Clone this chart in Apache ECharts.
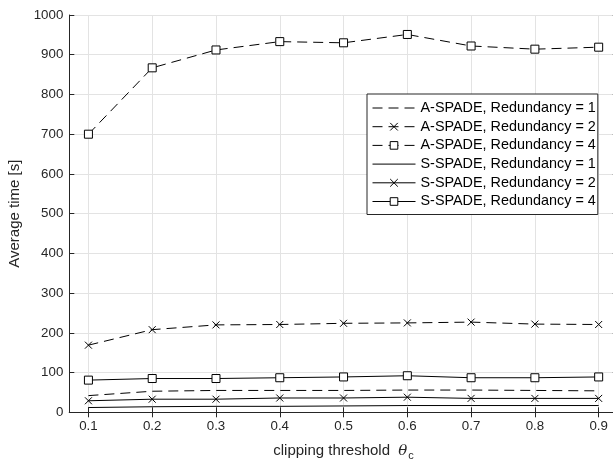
<!DOCTYPE html>
<html><head><meta charset="utf-8">
<script src="https://cdn.jsdelivr.net/npm/echarts@6/dist/echarts.min.js"></script>
<style>html,body{margin:0;padding:0;background:#fff}#c{width:613px;height:463px}</style>
</head><body><div id="c"></div>
<script>
const thresholds = [0.1, 0.2, 0.3, 0.4, 0.5, 0.6, 0.7, 0.8, 0.9];
const xTickLabels = ['0.1', '0.2', '0.3', '0.4', '0.5', '0.6', '0.7', '0.8', '0.9'];
const seriesNames = [
  'A-SPADE, Redundancy = 1', 'A-SPADE, Redundancy = 2', 'A-SPADE, Redundancy = 4',
  'S-SPADE, Redundancy = 1', 'S-SPADE, Redundancy = 2', 'S-SPADE, Redundancy = 4'
];
const aSpadeR1 = [42, 53, 55, 55, 55, 56, 56, 55, 54];
const aSpadeR2 = [169, 208, 220, 221, 224, 225, 227, 222, 221];
const aSpadeR4 = [700, 867, 912, 933, 930, 951, 922, 914, 919];
const sSpadeR1 = [12, 14, 15, 15, 16, 17, 17, 17, 17];
const sSpadeR2 = [29, 33, 33, 36, 36, 38, 35, 35, 35];
const sSpadeR4 = [81, 85, 85, 87, 89, 92, 87, 87, 89];

const FONT = 'Liberation Sans, Arial, Helvetica, sans-serif';
const AXIS = '#262626';
const GRID = '#e3e3e3';
const DASH = [10, 6];
const X_PATH = 'path://M0,0L10,10M10,0L0,10';
const SQ_PATH = 'path://M0,0H10V10H0Z';
const markers = ['none', 'x', 'sq', 'none', 'x', 'sq'];

function pairs(vals) { return thresholds.map((t, i) => [t, vals[i]]); }
function mk(name, vals, dashed, marker) {
  return {
    name: name, type: 'line', data: pairs(vals),
    lineStyle: { color: '#000', width: 1, type: dashed ? DASH : 'solid' },
    emphasis: { disabled: true },
    animation: false,
    showSymbol: marker !== 'none',
    symbol: marker === 'x' ? X_PATH : (marker === 'sq' ? SQ_PATH : 'none'),
    symbolSize: marker === 'x' ? 7 : 8,
    itemStyle: marker === 'sq'
      ? { color: '#fff', borderColor: '#000', borderWidth: 1 }
      : { color: '#000', borderColor: '#000', borderWidth: 1 }
  };
}

const chart = echarts.init(document.getElementById('c'), null, { renderer: 'canvas' });
const xBase = {
  type: 'value', min: 0.07, max: 0.93,
  axisLine: { show: true, lineStyle: { color: AXIS, width: 1 } },
  axisTick: { show: true, inside: true, length: 5, lineStyle: { color: AXIS }, customValues: thresholds },
};
const yBase = {
  type: 'value', min: 0, max: 1000, interval: 100,
  axisLine: { show: true, lineStyle: { color: AXIS, width: 1 } },
  axisTick: { show: true, inside: true, length: 5, lineStyle: { color: AXIS } },
};
chart.setOption({
  backgroundColor: '#fff',
  animation: false,
  grid: { left: 69.3, right: -4.8, top: 15, bottom: 50.7, containLabel: false, outerBoundsMode: 'none' },
  xAxis: [
    Object.assign({}, xBase, {
      position: 'bottom',
      axisLabel: {
        customValues: thresholds, margin: 8, color: AXIS, fontSize: 13.3, fontFamily: FONT,
        formatter: v => xTickLabels[thresholds.findIndex(t => Math.abs(t - v) < 1e-6)] || ''
      },
      splitLine: { show: true, lineStyle: { color: GRID, width: 1 } },
      name: '{a|clipping threshold  }{b|θ}{c|c}',
      nameLocation: 'middle', nameGap: 24,
      nameTextStyle: {
        color: AXIS, fontFamily: FONT,
        rich: {
          a: { fontSize: 15, fontFamily: FONT, color: AXIS, lineHeight: 18, verticalAlign: 'top' },
          b: { fontSize: 15, fontFamily: 'DejaVu Serif, serif', fontStyle: 'italic', color: AXIS, lineHeight: 18, verticalAlign: 'top' },
          c: { fontSize: 11, fontFamily: FONT, color: AXIS, lineHeight: 11, padding: [12, 0, 0, 1], verticalAlign: 'bottom' }
        }
      }
    }),
    Object.assign({}, xBase, {
      position: 'top', axisLabel: { show: false }, splitLine: { show: false }
    })
  ],
  yAxis: [
    Object.assign({}, yBase, {
      position: 'left',
      axisLabel: { margin: 6, color: AXIS, fontSize: 13.3, fontFamily: FONT, formatter: v => String(v) },
      splitLine: { show: true, lineStyle: { color: GRID, width: 1 } },
      name: 'Average time [s]', nameLocation: 'middle', nameGap: 34,
      nameTextStyle: { color: AXIS, fontSize: 15, fontFamily: FONT }
    }),
    Object.assign({}, yBase, {
      position: 'right', axisLabel: { show: false }, splitLine: { show: false }
    })
  ],
  legend: {
    orient: 'vertical', left: 367, top: 94,
    padding: [7, 2, 6, 5], itemGap: 4.7, itemWidth: 43, itemHeight: 9.5,
    backgroundColor: '#fff', borderColor: AXIS, borderWidth: 1,
    selectedMode: false,
    lineStyle: { width: 1 },
    itemStyle: { borderWidth: 1 },
    textStyle: { fontSize: 14.4, color: '#000', fontFamily: FONT },
    data: seriesNames.map((n, i) => markers[i] === 'none'
      ? { name: n, itemStyle: { color: 'rgba(0,0,0,0)', borderColor: 'rgba(0,0,0,0)', borderWidth: 0 } }
      : { name: n })
  },
  series: [
    mk(seriesNames[0], aSpadeR1, true, markers[0]),
    mk(seriesNames[1], aSpadeR2, true, markers[1]),
    mk(seriesNames[2], aSpadeR4, true, markers[2]),
    mk(seriesNames[3], sSpadeR1, false, markers[3]),
    mk(seriesNames[4], sSpadeR2, false, markers[4]),
    mk(seriesNames[5], sSpadeR4, false, markers[5])
  ]
});
</script></body></html>
